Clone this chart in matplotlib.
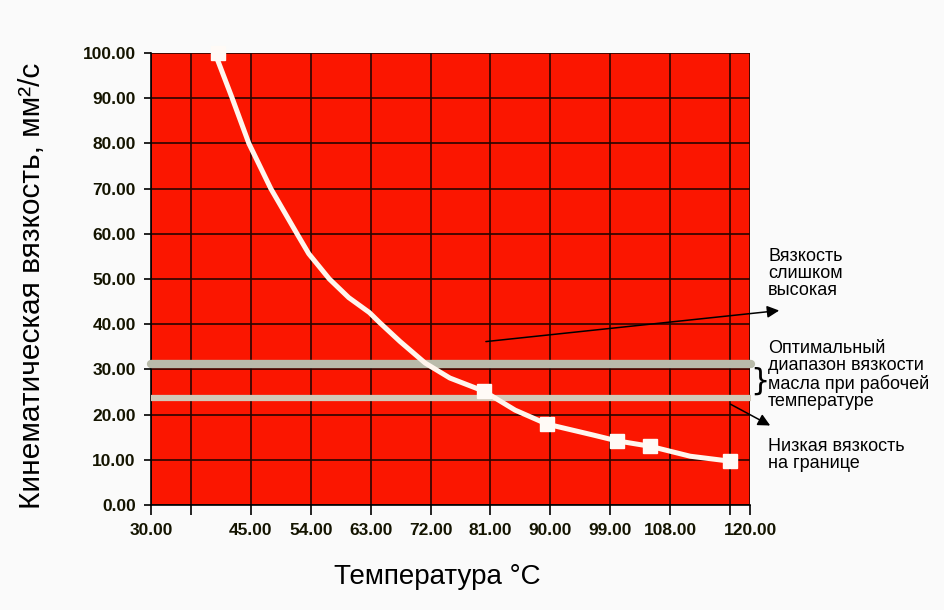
import matplotlib
matplotlib.use('Agg')
import matplotlib.pyplot as plt

# curve (temperature, viscosity)
curve_t = [39.6, 42.2, 44.7, 48.0, 51.9, 53.7, 56.8, 59.7, 62.8, 64.4, 67.4,
           71.2, 74.9, 80.0, 84.7, 89.5, 96.4, 100.0, 105.0, 111.0, 117.0]
curve_v = [100.0, 90.0, 80.0, 70.0, 60.1, 55.6, 50.0, 45.9, 42.6, 40.3, 36.2,
           31.4, 28.1, 25.2, 21.0, 17.9, 15.5, 14.2, 13.0, 10.8, 9.7]

# measured points (white squares)
point_t = [40, 80, 89.5, 100, 105, 117]
point_v = [100, 25.2, 17.9, 14.2, 13.0, 9.7]

# optimal range limits
band_high = 31.2
band_low = 23.7

x_ticks = [30, 36, 45, 54, 63, 72, 81, 90, 99, 108, 117, 120]
x_labels = ['30.00', '', '45.00', '54.00', '63.00', '72.00', '81.00',
            '90.00', '99.00', '108.00', '', '120.00']
y_ticks = list(range(0, 101, 10))
y_labels = ['%.2f' % v for v in y_ticks]

plt.rcParams['font.family'] = ['Liberation Sans', 'DejaVu Sans']

fig = plt.figure(figsize=(9.44, 6.10), dpi=100, facecolor='#fafafa')
ax = fig.add_axes([0.16, 0.1721, 0.6345, 0.7409])
ax.set_facecolor('#fb1600')

ax.set_xlim(30, 120)
ax.set_ylim(0, 100)
ax.set_xticks(x_ticks)
ax.set_xticklabels(x_labels)
ax.set_yticks(y_ticks)
ax.set_yticklabels(y_labels)
ax.grid(True, color='#2a0500', linewidth=1.2)
ax.set_axisbelow(True)
for s in ['top', 'right']:
    ax.spines[s].set_visible(False)
for s in ['left', 'bottom']:
    ax.spines[s].set_linewidth(1.2)
ax.tick_params(axis='x', length=7, width=1.2, pad=6, labelsize=12.5, labelcolor='#141400')
ax.tick_params(axis='y', length=5, width=1.2, pad=6, labelsize=12.5, labelcolor='#141400')
for lab in ax.get_xticklabels() + ax.get_yticklabels():
    lab.set_fontweight('bold')

# bands
ax.plot([30, 120.2], [band_high, band_high], color='#b9bbaa', linewidth=6,
        solid_capstyle='round', clip_on=False, zorder=3)
ax.plot([30, 120.2], [band_low, band_low], color='#d2c8b8', linewidth=4.5,
        solid_capstyle='butt', clip_on=False, zorder=3)

# curve and points
ax.plot(curve_t, curve_v, color='#fff6ee', linewidth=3.6, zorder=4, clip_on=False,
        solid_joinstyle='round')
ax.plot(point_t, point_v, linestyle='none', marker='s', markersize=10,
        color='#fffaf6', zorder=5, clip_on=False)

# brace
ax.text(120.05, (band_high + band_low) / 2, '}', fontsize=22, va='center', ha='left',
        color='black', family='DejaVu Sans', clip_on=False)

# arrows
ax.annotate('', xy=(124.8, 43.1), xytext=(79.9, 36.1),
            arrowprops=dict(arrowstyle='-|>', color='black', lw=1.1, mutation_scale=18),
            annotation_clip=False)
ax.annotate('', xy=(123.4, 17.3), xytext=(116.7, 22.6),
            arrowprops=dict(arrowstyle='-|>', color='black', lw=1.1, mutation_scale=18),
            annotation_clip=False)

# annotation texts
fig.text(0.8136, 0.5516, 'Вязкость\nслишком\nвысокая', fontsize=13,
         va='center', ha='left', linespacing=1.03)
fig.text(0.8136, 0.3852, 'Оптимальный\nдиапазон вязкости\nмасла при рабочей\nтемпературе',
         fontsize=13, va='center', ha='left', linespacing=1.0)
fig.text(0.8136, 0.2533, 'Низкая вязкость\nна границе', fontsize=13,
         va='center', ha='left', linespacing=1.0)

# axis titles
fig.text(0.034, 0.531, 'Кинематическая вязкость, мм²/с', fontsize=21.5,
         rotation=90, ha='center', va='center')
fig.text(0.4635, 0.054, 'Температура °С', fontsize=20, ha='center', va='center')

fig.savefig('out.png', dpi=100, facecolor=fig.get_facecolor())
